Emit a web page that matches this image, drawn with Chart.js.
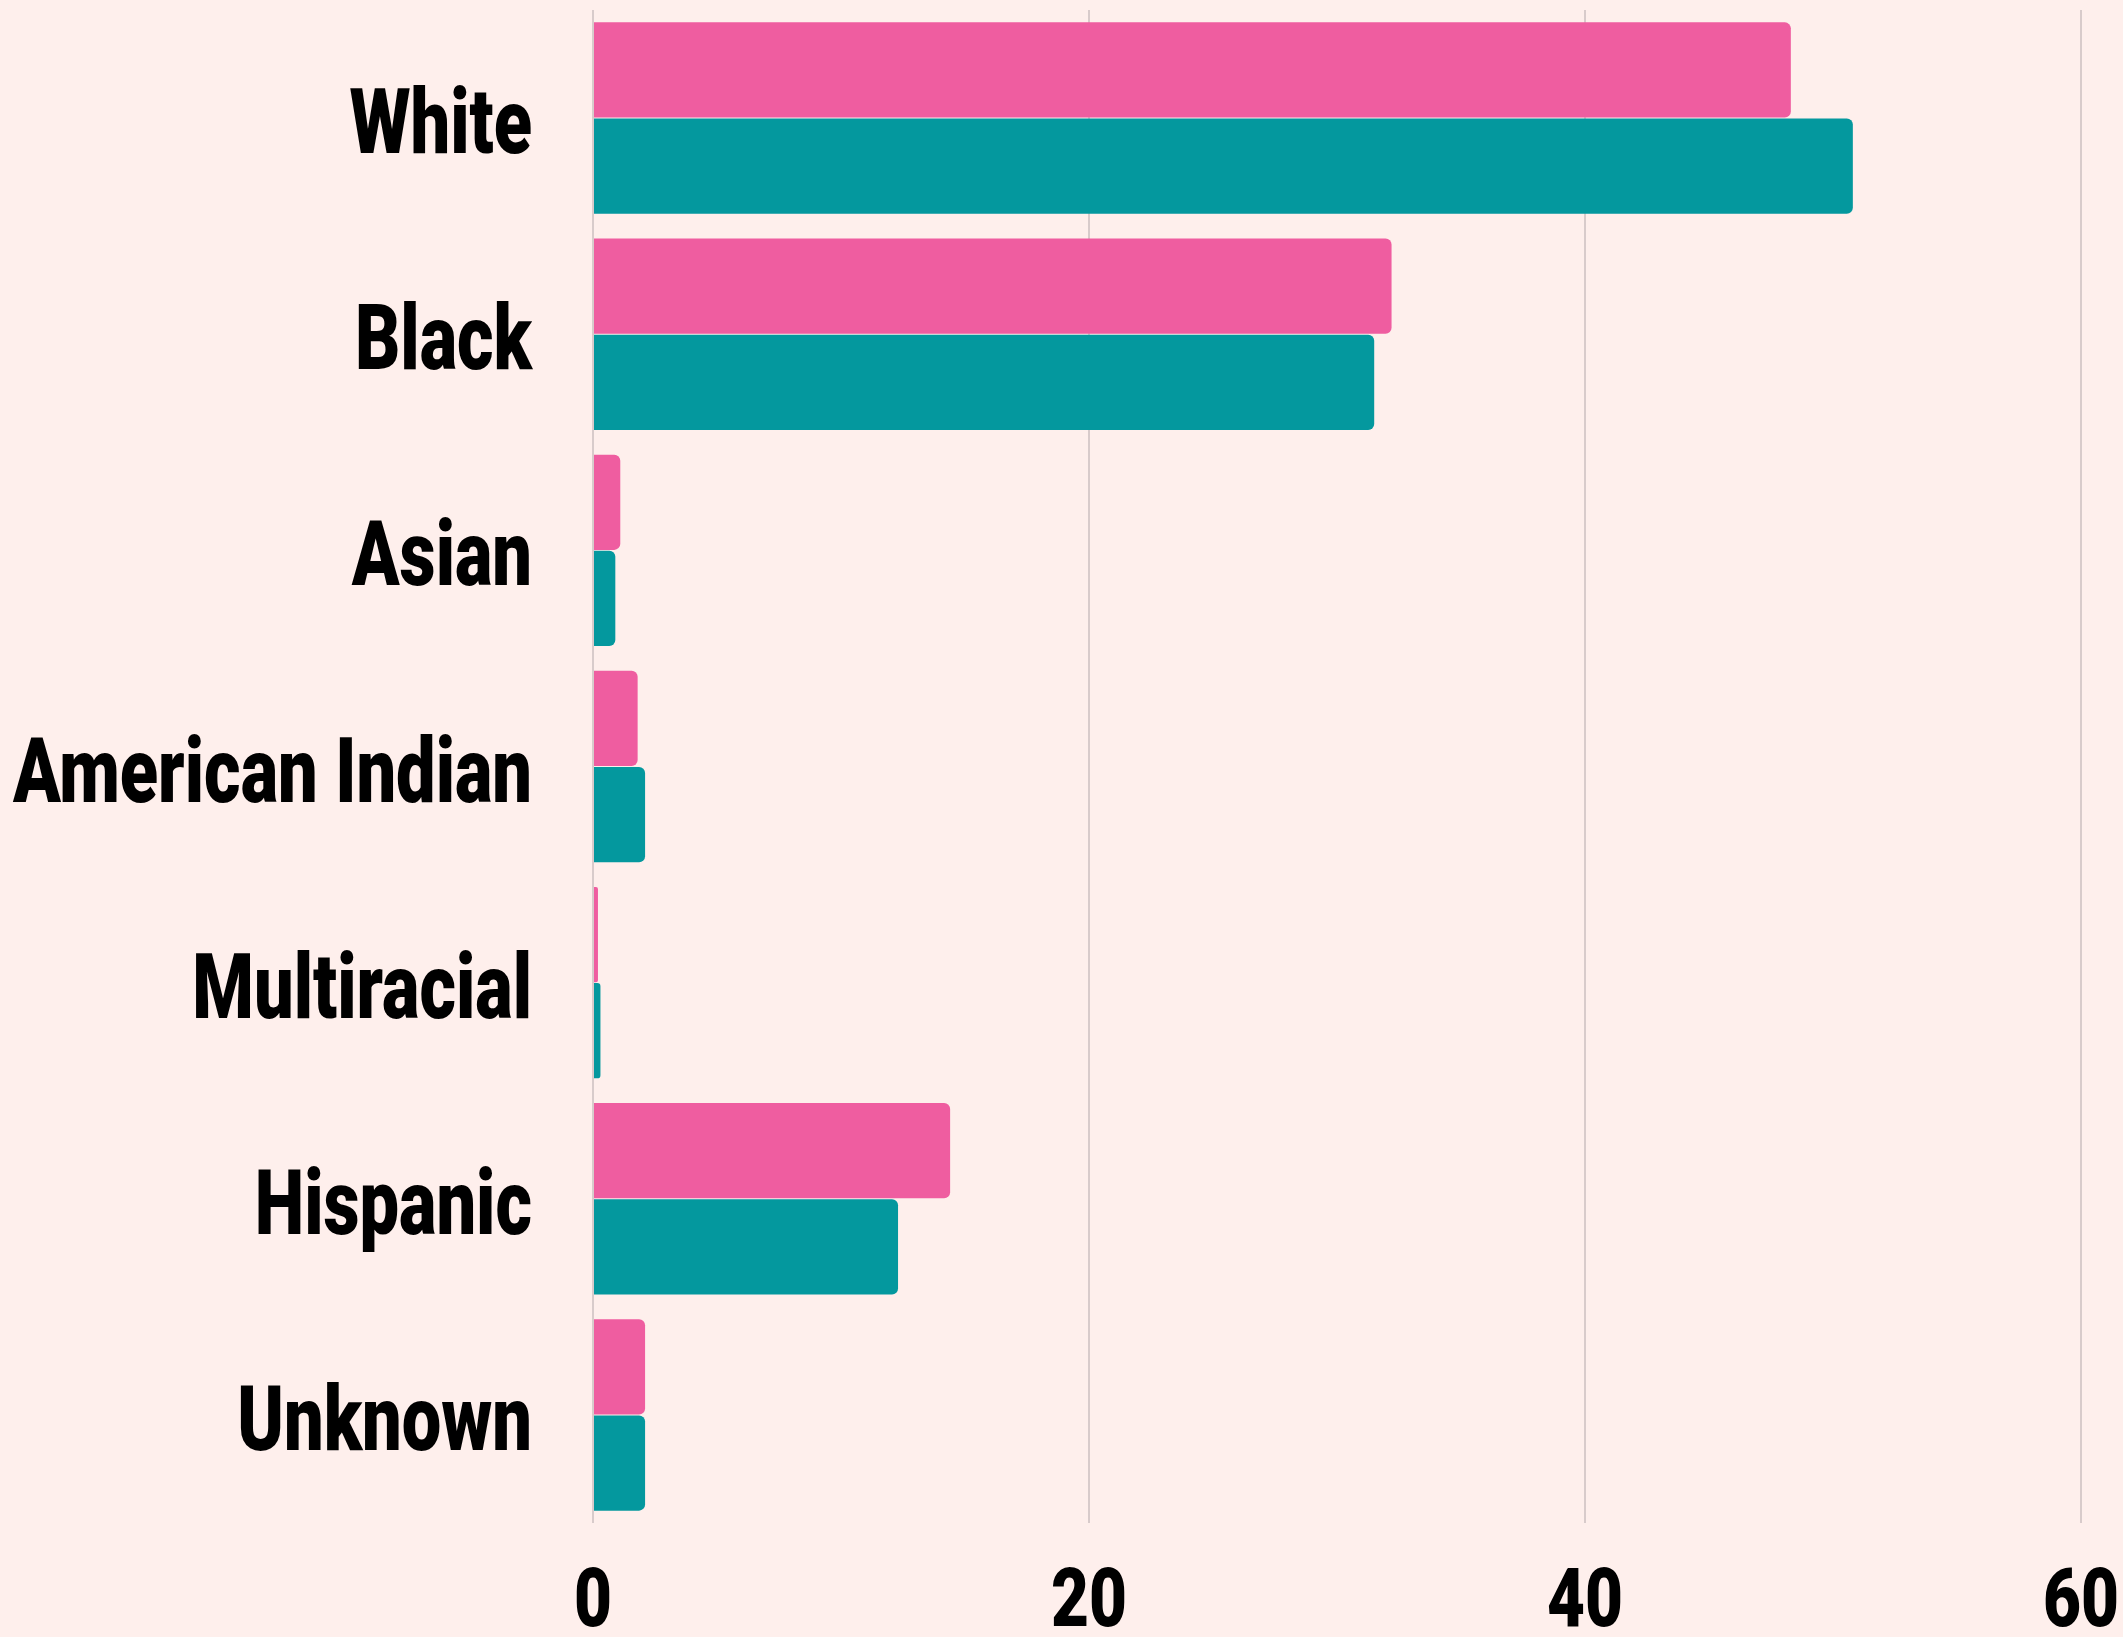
<!DOCTYPE html>
<html>
<head>
<meta charset="utf-8">
<script src="https://cdn.jsdelivr.net/npm/chart.js@4/dist/chart.umd.min.js"></script>
<style>
  html, body { margin: 0; padding: 0; background: #FEEFEC; }
  #wrap { width: 2123px; height: 1637px; position: relative; }
</style>
</head>
<body>
<div id="wrap"><canvas id="myChart"></canvas></div>
<script>
let labels = ['White', 'Black', 'Asian', 'American Indian', 'Multiracial', 'Hispanic', 'Unknown'];
let pinkValues = [48.3, 32.2, 1.1, 1.8, 0.2, 14.4, 2.1];
let tealValues = [50.8, 31.5, 0.9, 2.1, 0.3, 12.3, 2.1];
let xTicks = [0, 20, 40, 60];
let colorHex = ['#EF5DA0', '#04989E'];

// condensed heavy labels: Roboto black squeezed sideways (no Oswald offline)
let condensedLabels = {
  id: 'condensedLabels',
  afterDraw(chart) {
    let c = chart.ctx;
    let area = chart.chartArea;
    let x = chart.scales.x;
    let y = chart.scales.y;
    c.save();
    c.fillStyle = '#000';
    c.textBaseline = 'alphabetic';

    c.font = '900 90px Roboto, sans-serif';
    let sy = 519 / c.measureText('American Indian').width;
    labels.forEach((lab, i) => {
      c.save();
      c.translate(area.left - 61, y.getPixelForTick(i) + 35);
      c.scale(sy, 1);
      c.textAlign = 'right';
      c.fillText(lab, 0, 0);
      c.restore();
    });

    c.font = '900 82px Roboto, sans-serif';
    let sx = 76 / c.measureText('20').width;
    xTicks.forEach((v) => {
      c.save();
      c.translate(x.getPixelForValue(v), 1626);
      c.scale(sx, 1);
      c.textAlign = 'center';
      c.fillText(String(v), 0, 0);
      c.restore();
    });
    c.restore();
  }
};

let ctx = document.getElementById('myChart').getContext('2d');
let myChart = new Chart(ctx, {
  type: 'bar',
  data: {
    labels: labels,
    datasets: [{
      data: pinkValues,
      backgroundColor: colorHex[0],
      borderRadius: 6,
      borderSkipped: 'start'
    }, {
      data: tealValues,
      backgroundColor: colorHex[1],
      borderRadius: 6,
      borderSkipped: 'start'
    }]
  },
  plugins: [condensedLabels],
  options: {
    indexAxis: 'y',
    responsive: true,
    maintainAspectRatio: false,
    animation: false,
    categoryPercentage: 0.89,
    barPercentage: 0.99,
    layout: {
      padding: { top: 10, right: 42, left: 0, bottom: 0 }
    },
    plugins: {
      legend: { display: false },
      tooltip: { enabled: false }
    },
    scales: {
      x: {
        min: 0,
        max: 60,
        afterBuildTicks: (s) => { s.ticks = xTicks.map(v => ({ value: v })); },
        afterFit: (s) => { s.paddingLeft = 0; s.paddingRight = 0; s.height = 114; },
        border: { display: false },
        grid: { color: '#D8CBCB', lineWidth: 2, drawTicks: false },
        ticks: { display: false }
      },
      y: {
        afterFit: (s) => { s.width = 593; s.paddingTop = 0; s.paddingBottom = 0; },
        border: { display: false },
        grid: { display: false, drawTicks: false },
        ticks: { display: false }
      }
    }
  }
});
</script>
</body>
</html>
